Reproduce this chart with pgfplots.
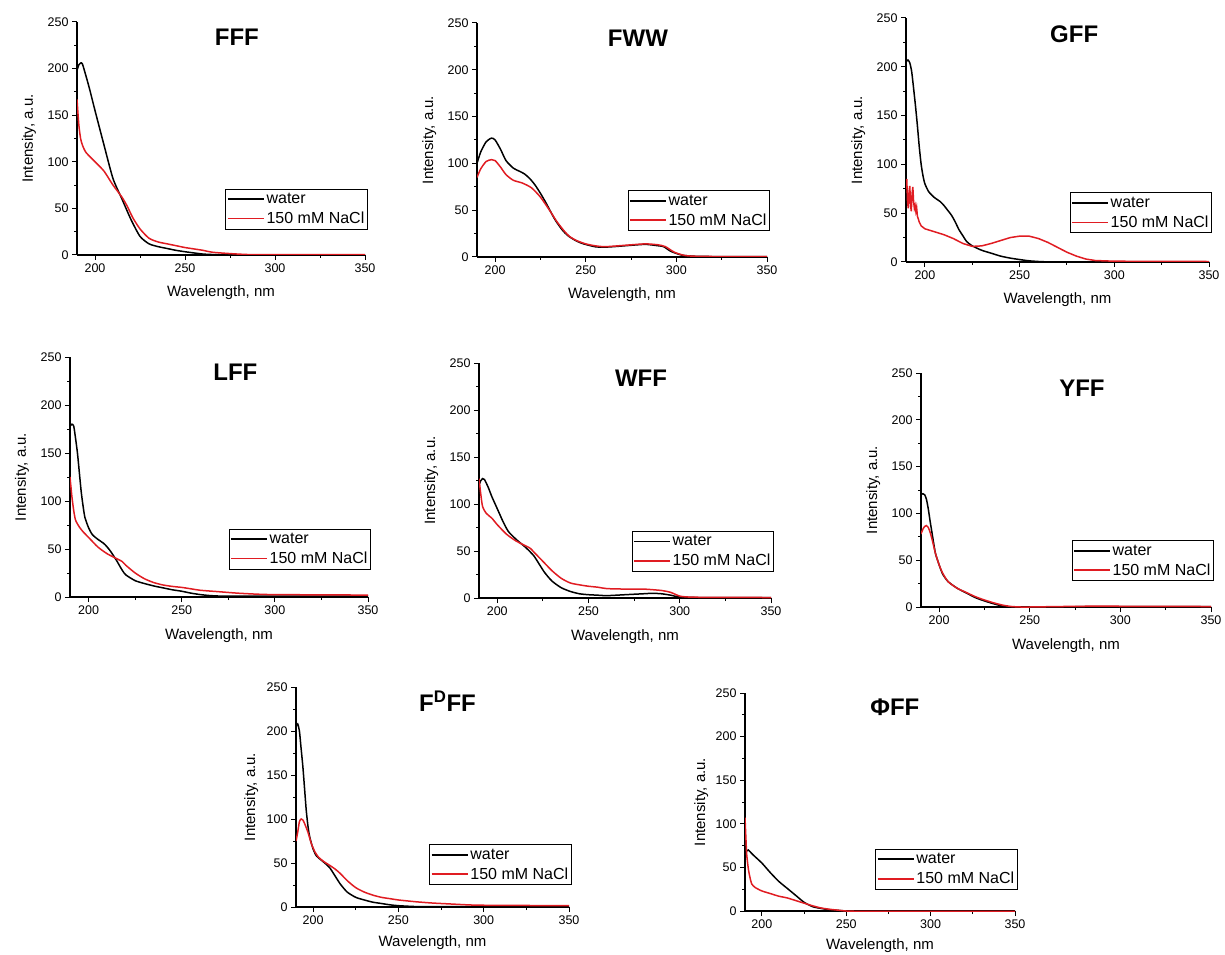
\documentclass[border=0pt]{standalone}
\usepackage{fontspec}
\setmainfont{Liberation Sans}
\usepackage{pgfplots}
\pgfplotsset{compat=1.18}
\definecolor{nred}{RGB}{224,28,34}
\pgfplotsset{
  panel/.style={
    scale only axis, axis lines=left, axis line style={line width=1.1pt,-},
    xmin=190,xmax=350,ymin=0,ymax=250,
    xtick={200,250,300,350}, ytick={0,50,...,250},
    minor x tick num=1, minor y tick num=1,
    tick align=outside, major tick length=5pt, minor tick length=3pt,
    every tick/.style={line width=1pt,black},
    ticklabel style={font=\fontsize{12.5}{14}\selectfont},
    /pgf/number format/assume math mode=true,
    xlabel={Wavelength, nm}, ylabel={Intensity, a.u.},
    label style={font=\fontsize{15}{18}\selectfont},
    xlabel style={at={([yshift=-42pt]axis description cs:0.5,0)}, anchor=base},
    ylabel style={at={([xshift=-44pt]axis description cs:0,0.5)}, anchor=base},
    legend style={at={(1.01,0.285)}, anchor=north east, draw=black, line width=1pt,
      font=\fontsize{16}{18}\selectfont, inner xsep=1pt, inner ysep=2pt,
      row sep=3pt, cells={anchor=west}},
    legend image code/.code={\draw[#1, line width=1.6pt] (0pt,0pt) -- (36pt,0pt);},
  },
  wat/.style={black, line width=1.5pt, smooth, tension=0.4},
  nacl/.style={nred, line width=1.5pt, smooth, tension=0.4},
}
\newcommand{\ttl}[1]{\node[font=\fontsize{24}{28}\selectfont\bfseries] at (rel axis cs:0.555,0.935) {#1};}
\begin{document}
\begin{tikzpicture}
\path[use as bounding box] (0pt,0pt) rectangle (1225pt,954pt);
% Panel 1 FFF
\begin{axis}[panel, at={(77pt,699pt)}, anchor=south west, width=288pt, height=233pt]
\addplot[wat] coordinates {(190,198) (191,204) (192,206) (193,205) (195,192) (197,178) (200,155) (205,118) (210,82) (215,60) (220,38) (225,20) (230,12) (235,9) (240,7) (245,5) (250,3.5) (255,2.2) (260,1) (265,0.5) (270,0.2) (280,0) (350,0)};
\addplot[nacl] coordinates {(190,167) (191,140) (192,125) (193,118) (195,110) (200,100) (205,90) (210,75) (215,62) (218,52) (221,40) (225,28) (230,18) (235,14) (240,12) (245,10) (250,8) (255,6.5) (260,5) (265,3) (275,1.5) (285,0.5) (300,0.3) (350,0.3)};
\legend{water,150 mM NaCl}
\ttl{FFF}
\end{axis}
% Panel 2 FWW
\begin{axis}[panel, at={(477pt,697pt)}, anchor=south west, width=290pt, height=234pt]
\addplot[wat] coordinates {(190,100) (192,112) (195,123) (198,127) (200,125) (203,115) (206,103) (210,95) (213,92) (216,89) (219,84) (222,77) (225,68) (228,58) (233,40) (237,29) (240,23) (244,18) (248,14.5) (255,11) (260,10.5) (265,11) (275,12.5) (283,13.5) (290,12) (293,11) (297,6) (303,2) (310,0.8) (320,0.5) (350,0.3)};
\addplot[nacl] coordinates {(190,85) (192,94) (195,102) (198,104) (200,103) (203,96) (206,88) (210,82) (215,79) (220,74) (225,64) (230,50) (234,38) (238,28) (241,22) (245,17.5) (250,14) (255,12) (260,11) (265,11.5) (275,13) (283,14) (290,13) (294,11) (299,5) (305,1.5) (315,0.6) (350,0.3)};
\legend{water,150 mM NaCl}
\ttl{FWW}
\end{axis}
% Panel 3 GFF
\begin{axis}[panel, at={(906pt,692pt)}, anchor=south west, width=303pt, height=244pt]
\addplot[wat] coordinates {(190,205) (191,207) (192,204) (193,195) (194,178) (195,160) (196,140) (197,118) (198,100) (199,88) (200,80) (202,72) (205,66) (208,62) (210,58) (212,53) (214,48) (216,41) (218,33) (220,27) (222,21) (225,16.5) (230,12) (235,9) (240,6) (245,4) (250,2.5) (255,1.2) (260,0.5) (265,0.1) (270,0) (350,0)};
\addplot[nred, line width=1.5pt] coordinates {(190,75) (190.4,85) (190.8,62) (191.2,55) (191.6,72) (192,78) (192.4,58) (192.8,52) (193.2,70) (193.6,77) (194,62) (194.4,55) (194.8,58) (195.2,52) (195.6,56) (196,47) (197,41) (198,37) (200,34) (205,31) (210,28) (215,24) (220,19) (225,16) (230,16.5) (235,19) (240,22) (245,25) (250,26.5) (255,26.5) (260,24) (265,20) (270,15) (275,10) (280,6) (285,3) (290,1.5) (300,0.8) (350,0.5)};
\legend{water,150 mM NaCl}
\ttl{GFF}
\end{axis}
% Panel 4 LFF
\begin{axis}[panel, at={(70pt,357pt)}, anchor=south west, width=298pt, height=240pt]
\addplot[wat] coordinates {(190,178) (191,180) (192,178) (193,165) (194,150) (195,130) (196,110) (197,95) (198,83) (200,72) (202,65) (205,60) (208,56) (210,52) (212,47) (215,38) (218,28) (220,23) (225,17) (230,14) (235,11.5) (240,9.5) (245,7.5) (250,6) (255,4) (260,2.5) (265,1.5) (270,1) (280,0.8) (300,1) (350,1)};
\addplot[nacl] coordinates {(190,125) (191,105) (192,90) (193,80) (195,73) (197,68) (200,62) (205,52) (210,45) (215,40) (218,37) (220,33) (225,25) (230,19) (235,15) (240,12.5) (245,11) (250,10) (255,8.5) (260,7) (270,5.5) (280,4) (290,3) (300,2.5) (350,2)};
\legend{water,150 mM NaCl}
\ttl{LFF}
\end{axis}
% Panel 5 WFF
\begin{axis}[panel, at={(479pt,356pt)}, anchor=south west, width=292pt, height=235pt]
\addplot[wat] coordinates {(190,120) (191,125) (192,127) (193,126) (195,118) (197,108) (200,95) (203,82) (206,71) (210,63) (213,58) (216,53) (220,45) (223,36) (226,27) (230,18) (235,11) (240,7) (245,4.5) (250,3.5) (255,3) (260,2.5) (270,3.5) (280,4.5) (285,5) (290,4.5) (295,3) (300,1) (310,0.5) (350,0.3)};
\addplot[nacl] coordinates {(190,127) (191,110) (192,97) (194,90) (197,85) (200,78) (205,68) (210,61) (215,56) (218,53) (220,49) (225,39) (230,29) (235,21) (240,16) (245,14) (250,12.5) (255,11.5) (260,10) (270,9.5) (280,9.5) (290,8) (295,6) (300,2) (305,1) (310,0.8) (350,0.5)};
\legend{water,150 mM NaCl}
\ttl{WFF}
\end{axis}
% Panel 6 YFF
\begin{axis}[panel, at={(921pt,347pt)}, anchor=south west, width=290pt, height=234pt]
\addplot[wat] coordinates {(190,120) (191,121) (192,120) (193,115) (194,105) (195,92) (196,80) (197,68) (198,57) (200,45) (202,35) (205,27) (210,20) (215,15) (220,10) (225,6.5) (230,3.5) (235,1) (240,-0.5) (245,-1) (250,-1) (255,-1) (260,-0.5) (270,0) (280,0.5) (290,0.5) (350,0.3)};
\addplot[nacl] coordinates {(190,78) (191,83) (192,86) (193,87) (194,85) (195,80) (196,73) (197,65) (198,57) (200,45) (202,36) (205,27) (210,20) (215,15.5) (220,11) (225,7.5) (230,4.5) (235,2) (240,0.5) (245,0) (250,0) (260,0.3) (280,0.8) (300,0.8) (350,0.5)};
\legend{water,150 mM NaCl}
\ttl{YFF}
\end{axis}
% Panel 7 FDFF
\begin{axis}[panel, at={(296pt,47pt)}, anchor=south west, width=273pt, height=220pt,
  xlabel style={at={([yshift=-39pt]axis description cs:0.5,0)}},
  ylabel style={at={([xshift=-41pt]axis description cs:0,0.5)}}]
\addplot[wat] coordinates {(190,205) (191,208) (192,200) (193,180) (194,160) (195,135) (196,110) (197,92) (198,80) (200,66) (202,58) (205,53) (208,48) (210,44) (213,35) (216,26) (220,17) (225,11) (230,8) (235,5.5) (240,4) (245,2.5) (250,1.5) (260,0.5) (270,0.3) (350,0.5)};
\addplot[nacl] coordinates {(190,75) (191,85) (192,97) (193,100) (194,99) (195,95) (197,85) (199,72) (201,63) (203,57) (206,52) (210,47) (213,43) (216,38) (220,30) (225,22) (230,17) (235,13.5) (240,11) (245,9.5) (250,8) (260,6) (270,4.5) (280,3.5) (290,2.5) (300,2) (350,1.5)};
\legend{water,150 mM NaCl}
\ttl{F\textsuperscript{D}FF}
\end{axis}
% Panel 8 PhiFF
\begin{axis}[panel, at={(745pt,43pt)}, anchor=south west, width=270pt, height=218pt,
  xlabel style={at={([yshift=-38pt]axis description cs:0.5,0)}},
  ylabel style={at={([xshift=-40pt]axis description cs:0,0.5)}}]
\addplot[wat] coordinates {(190,65) (191,69) (192,70) (193,68) (195,64) (200,55) (205,44) (210,34) (215,26) (220,18) (225,10) (230,5) (235,3) (240,1.5) (250,0) (260,-1) (270,-1) (280,-1) (300,-0.5) (350,-0.5)};
\addplot[nacl] coordinates {(190,107) (190.5,85) (191,65) (192,48) (193,38) (194,31) (196,27) (200,23) (205,20) (210,17) (215,15) (220,12) (225,9) (230,6) (235,3.5) (240,2) (245,1) (250,0) (260,-0.5) (270,-0.5) (300,-0.5) (350,-0.5)};
\legend{water,150 mM NaCl}
\ttl{ΦFF}
\end{axis}
\end{tikzpicture}
\end{document}
